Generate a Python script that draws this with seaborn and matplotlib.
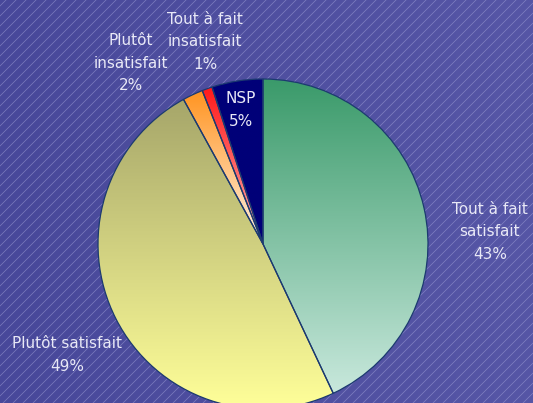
import numpy as np
import matplotlib
matplotlib.use('Agg')
import matplotlib.pyplot as plt
import seaborn as sns

sns.set_style('white')
plt.rcParams['font.family'] = ['DejaVu Sans']

# Data
labels = ['Tout à fait\nsatisfait', 'Plutôt satisfait', 'Plutôt\ninsatisfait',
          'Tout à fait\ninsatisfait', 'NSP']
values = [43, 49, 2, 1, 5]

# gradient colours for each slice (top -> bottom)
slice_colors = [('#3a9a6a', '#c8e8dc'),
                ('#a6a66a', '#ffff99'),
                ('#ff9420', '#fff2e4'),
                ('#ff1a1a', '#ffb0b0'),
                ('#000078', '#000078')]

# label centres in pixels (x, y from the top)
label_pos = [(490, 232), (67, 355), (131, 63), (205, 42), (241, 110)]

W, H = 533, 403
fig = plt.figure(figsize=(W / 100, H / 100), dpi=100)

# background: blue/purple with thin diagonal lines
bg = fig.add_axes([0, 0, 1, 1])
bg.set_xlim(0, W)
bg.set_ylim(0, H)
bg.axis('off')
bg_cmap = sns.blend_palette(['#48489a', '#5656a6'], n_colors=256, as_cmap=True)
grad = np.linspace(0, 1, 256).reshape(1, -1)
bg.imshow(grad, cmap=bg_cmap, extent=[0, W, 0, H], aspect='auto', zorder=0)
for c in np.arange(-W, H + 10, 10):
    xs = np.array([0, W])
    bg.plot(xs, xs + c, color='#a8a8dc', lw=0.5, alpha=0.55, zorder=1)
bg.set_xlim(0, W)
bg.set_ylim(0, H)

# pie axes: centre (263, 244) px, radius 165 px
cx, cy, r = 263, 244, 165
ax = fig.add_axes([(cx - r) / W, (H - cy - r) / H, 2 * r / W, 2 * r / H])
ax.axis('off')
wedges, _ = ax.pie(values, startangle=90, counterclock=False, radius=1,
                   wedgeprops=dict(edgecolor='#1c3a70', linewidth=0.9))
ax.set_xlim(-1, 1)
ax.set_ylim(-1, 1)

for w, (top, bottom) in zip(wedges, slice_colors):
    w.set_facecolor('none')
    ext = w.get_path().get_extents()
    cmap = sns.blend_palette([top, bottom], n_colors=256, as_cmap=True)
    g = np.linspace(0, 1, 256).reshape(-1, 1)
    # origin 'upper': first row (top colour) goes to the top of the extent
    im = ax.imshow(g, cmap=cmap, extent=[ext.x0, ext.x1, ext.y0, ext.y1],
                   aspect='auto', zorder=1)
    im.set_clip_path(w)
    w.set_zorder(2)
ax.set_xlim(-1, 1)
ax.set_ylim(-1, 1)

for lab, v, (px, py) in zip(labels, values, label_pos):
    fig.text(px / W, 1 - py / H, f'{lab}\n{v}%', ha='center', va='center',
             multialignment='center', fontsize=11, color='#e8e8f6',
             linespacing=1.6)

fig.savefig('out.png', dpi=100)
